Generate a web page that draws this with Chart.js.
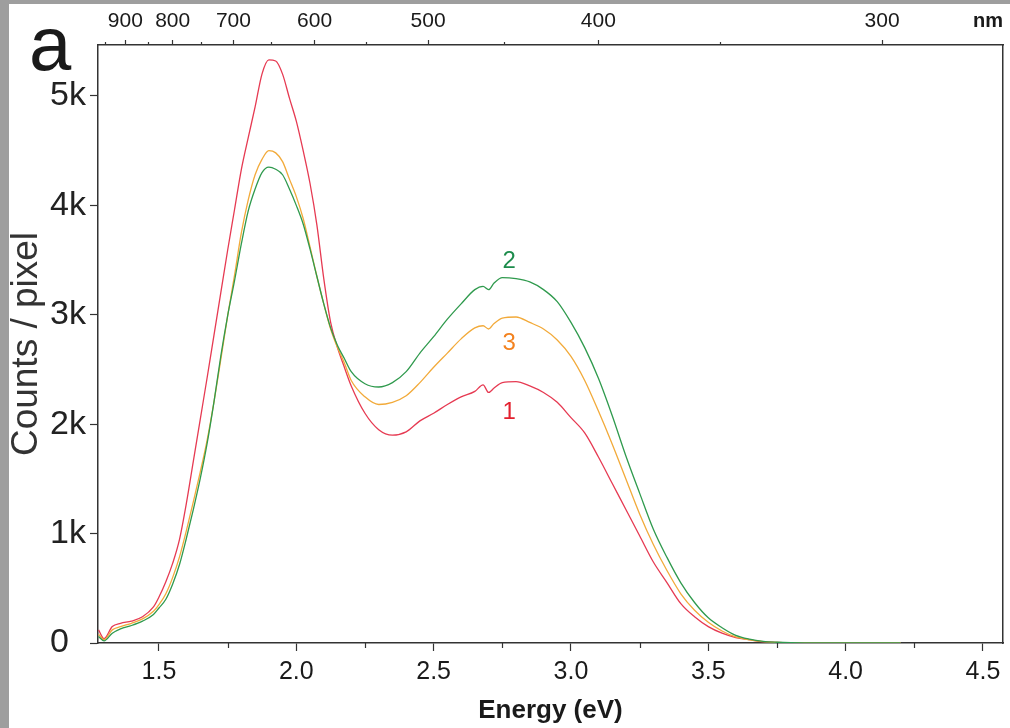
<!DOCTYPE html>
<html>
<head>
<meta charset="utf-8">
<script src="https://cdn.jsdelivr.net/npm/chart.js@4.4.0/dist/chart.umd.min.js"></script>
<style>
  body { margin: 0; background: #9e9e9e; width: 1010px; height: 728px; overflow: hidden; }
  #panel { position: absolute; left: 9px; top: 4px; width: 1001px; height: 724px; background: #fff; }
  #wrap { position: absolute; left: 0; top: 0; width: 1010px; height: 728px; }
</style>
</head>
<body>
<div id="panel"></div>
<div id="wrap"><canvas id="myChart" width="1010" height="728"></canvas></div>
<script>
// energy grid (eV) shared by the three spectra
const energy = [1.28, 1.30, 1.33, 1.36, 1.40, 1.44, 1.48, 1.50, 1.525, 1.55, 1.575, 1.60, 1.625, 1.65, 1.675, 1.70,
    1.725, 1.75, 1.775, 1.80, 1.825, 1.85, 1.875, 1.90, 1.925, 1.95, 1.975, 2.00, 2.025, 2.05, 2.075, 2.10, 2.125,
    2.15, 2.175, 2.20, 2.25, 2.30, 2.35, 2.40, 2.45, 2.50, 2.55, 2.60, 2.65, 2.68, 2.70, 2.72, 2.75, 2.80, 2.85,
    2.90, 2.95, 3.00, 3.05, 3.10, 3.15, 3.20, 3.25, 3.30, 3.35, 3.40, 3.45, 3.50, 3.55, 3.60, 3.65, 3.70, 3.75,
    3.80, 3.90, 4.00, 4.10, 4.20];

// counts / pixel
const spectrum1 = [120, 40, 150, 180, 200, 240, 330, 420, 560, 730, 950, 1280, 1660, 2040, 2420, 2810,
    3200, 3590, 3960, 4330, 4620, 4900, 5200, 5330, 5320, 5200, 4980, 4770, 4500, 4200, 3820, 3330, 2930,
    2700, 2520, 2350, 2100, 1950, 1900, 1930, 2030, 2100, 2180, 2250, 2300, 2360, 2290, 2330, 2380, 2390, 2350,
    2290, 2200, 2060, 1920, 1700, 1460, 1220, 980, 740, 550, 360, 240, 150, 90, 50, 30, 12, 5,
    2, 0, 0, 0, 0];
const spectrum2 = [60, 20, 90, 130, 160, 200, 260, 320, 400, 540, 720, 960, 1220, 1500, 1820, 2200,
    2620, 2990, 3310, 3650, 3950, 4150, 4300, 4350, 4330, 4280, 4150, 4000, 3830, 3600, 3350, 3100, 2880,
    2720, 2600, 2480, 2370, 2340, 2380, 2480, 2650, 2800, 2960, 3100, 3230, 3260, 3230, 3290, 3340, 3330, 3300,
    3230, 3120, 2930, 2700, 2420, 2080, 1710, 1370, 1040, 780, 550, 370, 230, 140, 70, 35, 15, 7,
    3, 1, 0, 0, 0];
const spectrum3 = [80, 30, 120, 150, 180, 220, 290, 350, 450, 600, 790, 1030, 1290, 1560, 1850, 2200,
    2590, 2990, 3360, 3750, 4050, 4280, 4420, 4500, 4480, 4400, 4240, 4080, 3880, 3620, 3350, 3100, 2870,
    2700, 2560, 2400, 2250, 2180, 2200, 2260, 2380, 2520, 2650, 2780, 2880, 2900, 2870, 2920, 2970, 2980, 2930,
    2870, 2770, 2620, 2400, 2120, 1820, 1500, 1180, 900, 660, 450, 300, 190, 110, 55, 28, 12, 5,
    2, 0, 0, 0, 0];

const energyTicks = [1.5, 2.0, 2.5, 3.0, 3.5, 4.0, 4.5];
const energyMinor = [1.75, 2.25, 2.75, 3.25, 3.75, 4.25];
const countTicks = [0, 1000, 2000, 3000, 4000, 5000];
const nmMajor = [900, 800, 700, 600, 500, 400, 300];
const nmMinor = [950, 850, 750, 650, 550, 450, 350];

const curveLabels = ['1', '2', '3'];
const curveLabelE = [2.775, 2.775, 2.775];
const curveLabelY = [2110, 3490, 2740];
const curveLabelColors = ['#e3202e', '#1d8c4c', '#f3821f'];

const eMin = 1.278, eMax = 4.573;
const HC = 1239.84;

function pts(arr){
    return energy.map((e, i) => ({x: e, y: arr[i]}));
}

const extras = {
    id: 'extras',
    afterDraw(chart){
        const c = chart.ctx;
        const xs = chart.scales.x;
        const ys = chart.scales.y;
        const area = chart.chartArea;
        c.save();
        // minor ticks
        c.strokeStyle = '#333';
        c.lineWidth = 1.2;
        energyMinor.forEach(e => {
            const px = Math.round(xs.getPixelForValue(e)) + 0.5;
            c.beginPath(); c.moveTo(px, area.bottom); c.lineTo(px, area.bottom + 5); c.stroke();
        });
        nmMinor.forEach(nm => {
            const px = Math.round(xs.getPixelForValue(HC / nm)) + 0.5;
            c.beginPath(); c.moveTo(px, area.top); c.lineTo(px, area.top - 3); c.stroke();
        });
        // curve numbers
        c.font = '24px "Liberation Sans", Arial, sans-serif';
        c.textAlign = 'center';
        c.textBaseline = 'middle';
        curveLabels.forEach((t, i) => {
            c.fillStyle = curveLabelColors[i];
            c.fillText(t, xs.getPixelForValue(curveLabelE[i]), ys.getPixelForValue(curveLabelY[i]));
        });
        // unit on the wavelength axis
        c.fillStyle = '#1a1a1a';
        c.font = 'bold 20px "Liberation Sans", Arial, sans-serif';
        c.textAlign = 'right';
        c.fillText('nm', 1003, 21);
        // panel letter
        c.fillStyle = '#1a1a1a';
        c.font = '76px "Liberation Sans", Arial, sans-serif';
        c.textAlign = 'left';
        c.textBaseline = 'alphabetic';
        c.fillText('a', 29, 70);
        c.restore();
    }
};

const ctx = document.getElementById('myChart').getContext('2d');
let myChart = new Chart(ctx, {
    type: 'line',
    data: {
        datasets: [
            {label: '2', data: pts(spectrum2), borderColor: '#2f9a4d', borderWidth: 1.3},
            {label: '3', data: pts(spectrum3), borderColor: '#f2aa3a', borderWidth: 1.3},
            {label: '1', data: pts(spectrum1), borderColor: '#e63a52', borderWidth: 1.3}
        ]
    },
    options: {
        responsive: false,
        animation: false,
        devicePixelRatio: 1,
        layout: {padding: {left: 50, right: 7, top: 0, bottom: 0}},
        elements: {
            point: {radius: 0},
            line: {cubicInterpolationMode: 'monotone', fill: false}
        },
        plugins: {legend: {display: false}, tooltip: {enabled: false}},
        scales: {
            x: {
                type: 'linear', position: 'bottom', min: eMin, max: eMax,
                afterFit: s => { s.height = 85; },
                afterBuildTicks: s => { s.ticks = energyTicks.map(v => ({value: v})); },
                ticks: {
                    callback: v => v.toFixed(1),
                    color: '#1a1a1a', padding: 6, maxRotation: 0,
                    font: {family: '"Liberation Sans Narrow", "Liberation Sans", Arial', size: 25}
                },
                grid: {drawOnChartArea: false, tickLength: 8, tickColor: '#333', tickWidth: 1.2},
                border: {color: '#333', width: 1.5},
                title: {
                    display: true, text: 'Energy (eV)', color: '#1a1a1a',
                    font: {family: '"Liberation Sans", Arial', size: 26, weight: 'bold'},
                    padding: {top: 0, bottom: 2}
                }
            },
            x2: {
                type: 'linear', position: 'top', min: eMin, max: eMax, display: true,
                afterFit: s => { s.height = 45; },
                afterBuildTicks: s => { s.ticks = nmMajor.map(nm => ({value: HC / nm})); },
                ticks: {
                    callback: v => String(Math.round(HC / v)),
                    color: '#1a1a1a', padding: 6, maxRotation: 0, autoSkip: false,
                    font: {family: '"Liberation Sans", Arial', size: 21}
                },
                grid: {drawOnChartArea: false, tickLength: 5, tickColor: '#333', tickWidth: 1.2},
                border: {color: '#333', width: 1.5}
            },
            y: {
                type: 'linear', position: 'left', min: 0, max: 5466,
                afterFit: s => { s.width = 48; },
                afterBuildTicks: s => { s.ticks = countTicks.map(v => ({value: v})); },
                ticks: {
                    callback: v => v === 0 ? '0' : (v / 1000) + 'k',
                    color: '#222', crossAlign: 'far',
                    font: {family: '"Liberation Sans", Arial', size: 34}
                },
                grid: {drawOnChartArea: false, tickLength: 8, tickColor: '#333', tickWidth: 1.2},
                border: {color: '#333', width: 1.5},
                title: {
                    display: true, text: 'Counts / pixel', color: '#333',
                    font: {family: '"Liberation Sans", Arial', size: 37},
                    padding: {top: -45, bottom: 0}
                }
            },
            y2: {
                type: 'linear', position: 'right', min: 0, max: 5466, display: true,
                afterFit: s => { s.width = 0; },
                ticks: {display: false},
                grid: {drawOnChartArea: false, drawTicks: false},
                border: {color: '#333', width: 1.5}
            }
        }
    },
    plugins: [extras]
});
</script>
</body>
</html>
